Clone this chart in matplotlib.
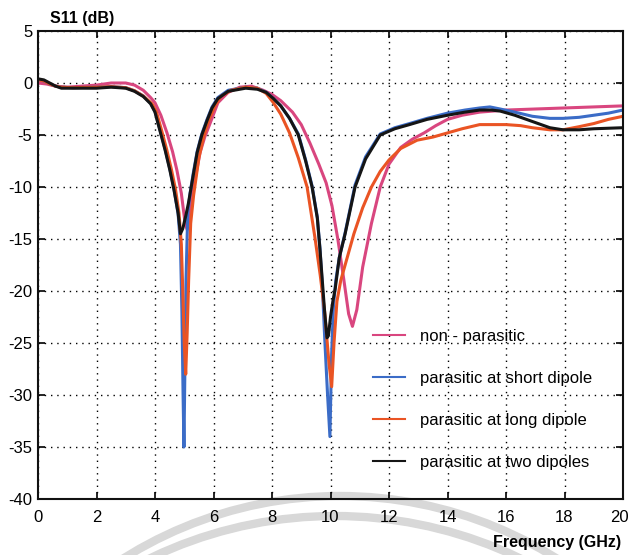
import matplotlib
matplotlib.use("Agg")
import matplotlib.pyplot as plt
import matplotlib.transforms as mtransforms
from matplotlib.patches import Circle

plt.rcParams['font.family'] = ['Liberation Sans', 'DejaVu Sans']
plt.rcParams['axes.unicode_minus'] = False

# Frequency (GHz) / S11 (dB) for each antenna configuration
freq_non = [0.0, 0.3, 0.6, 1.0, 1.5, 2.0, 2.5, 3.0, 3.3, 3.6, 3.85, 4.0, 4.2, 4.41, 4.6, 4.75,
            4.9, 5.03, 5.1, 5.18, 5.26, 5.4, 5.54, 5.7, 5.88, 6.15, 6.5, 6.9, 7.3, 7.7, 8.0,
            8.3, 8.7, 9.0, 9.3, 9.6, 9.85, 10.05, 10.25, 10.45, 10.62, 10.75, 10.9, 11.1, 11.4, 11.7,
            12.0, 12.4, 12.8, 13.2, 13.6, 14.0, 14.5, 15.1, 16.0, 17.0, 18.0, 19.0, 20.0]
s11_non = [0.0, -0.1, -0.3, -0.4, -0.3, -0.2, 0.0, 0.0, -0.2, -0.7, -1.4, -1.9, -3.1, -4.8, -6.6, -8.4,
           -10.6, -13.5, -14.1, -13.0, -11.0, -8.8, -6.7, -5.2, -3.9, -1.9, -0.9, -0.4, -0.3, -0.7, -1.1,
           -1.7, -2.8, -4.0, -5.8, -7.8, -9.6, -11.8, -15.0, -18.8, -22.2, -23.4, -21.8, -17.7, -13.5, -10.0,
           -7.8, -6.2, -5.4, -4.8, -4.1, -3.5, -3.1, -2.8, -2.6, -2.5, -2.4, -2.3, -2.2]

freq_short = [0.0, 0.2, 0.4, 0.6, 0.8, 1.2, 2.0, 2.5, 3.0, 3.3, 3.6, 3.85, 4.0, 4.17, 4.35, 4.51,
              4.65, 4.79, 4.87, 4.92, 4.96, 4.99, 5.02, 5.06, 5.12, 5.2, 5.3, 5.44, 5.6, 5.78, 5.95,
              6.15, 6.5, 7.1, 7.5, 7.8, 8.05, 8.3, 8.6, 8.9, 9.15, 9.37, 9.55, 9.64, 9.72, 9.81, 9.9,
              9.98, 10.04, 10.1, 10.18, 10.3, 10.5, 10.84, 11.2, 11.7, 12.2, 12.7, 13.3, 14.0, 14.6,
              15.1, 15.45, 15.8, 16.3, 16.9, 17.5, 17.95, 18.5, 19.0, 19.5, 20.0]
s11_short = [0.3, 0.2, -0.1, -0.3, -0.4, -0.45, -0.4, -0.35, -0.45, -0.75, -1.25, -1.95, -2.75, -4.5, -6.4, -8.3,
             -10.2, -12.6, -15.5, -22.0, -30.0, -35.0, -28.0, -19.0, -12.5, -10.6, -8.8, -6.6, -4.9, -3.5, -2.3,
             -1.4, -0.7, -0.4, -0.5, -0.9, -1.5, -2.2, -3.4, -4.9, -7.4, -9.9, -12.9, -15.9, -19.5, -25.0, -30.0,
             -34.0, -26.0, -21.5, -19.0, -16.8, -14.4, -9.8, -7.1, -4.9, -4.3, -3.9, -3.4, -2.9, -2.6,
             -2.4, -2.3, -2.5, -2.8, -3.2, -3.4, -3.4, -3.3, -3.1, -2.9, -2.6]

freq_long = [0.0, 0.2, 0.4, 0.6, 0.8, 1.2, 2.0, 2.5, 3.0, 3.3, 3.6, 3.9, 4.05, 4.22, 4.4, 4.56,
             4.7, 4.82, 4.9, 4.95, 5.0, 5.05, 5.1, 5.15, 5.22, 5.32, 5.5, 5.66, 5.85, 6.05, 6.25,
             6.6, 7.1, 7.5, 7.8, 8.05, 8.3, 8.6, 8.9, 9.2, 9.47, 9.65, 9.8, 9.95, 10.04, 10.12,
             10.22, 10.35, 10.5, 10.8, 11.1, 11.4, 11.7, 12.0, 12.4, 12.96, 13.5, 14.0, 14.5, 15.1,
             16.0, 16.5, 16.9, 17.5, 17.95, 18.5, 19.0, 19.5, 20.0]
s11_long = [0.3, 0.2, -0.1, -0.3, -0.4, -0.45, -0.4, -0.35, -0.45, -0.75, -1.25, -2.0, -2.8, -4.5, -6.4, -8.3,
            -10.2, -12.5, -15.5, -20.0, -25.0, -28.0, -24.0, -19.0, -13.5, -10.8, -7.2, -5.2, -3.5, -2.2, -1.3,
            -0.7, -0.4, -0.5, -1.0, -1.9, -3.0, -4.8, -7.2, -10.0, -14.9, -18.5, -22.0, -27.0, -29.2, -25.0,
            -21.0, -19.0, -17.5, -14.5, -12.0, -10.0, -8.5, -7.4, -6.3, -5.5, -5.2, -4.8, -4.4, -4.0,
            -4.0, -4.1, -4.3, -4.5, -4.5, -4.2, -3.9, -3.5, -3.2]

freq_two = [0.0, 0.2, 0.4, 0.6, 0.8, 1.2, 2.0, 2.5, 3.0, 3.3, 3.6, 3.85, 4.0, 4.17, 4.35, 4.51,
            4.65, 4.79, 4.87, 4.95, 5.05, 5.14, 5.3, 5.44, 5.6, 5.78, 5.95, 6.15, 6.5, 7.1, 7.5,
            7.8, 8.05, 8.3, 8.6, 8.9, 9.15, 9.37, 9.55, 9.64, 9.72, 9.8, 9.88, 9.93, 10.0, 10.08,
            10.16, 10.3, 10.5, 10.84, 11.2, 11.7, 12.2, 12.7, 13.3, 14.0, 14.6, 15.1, 15.5, 15.8,
            16.3, 16.9, 17.5, 17.95, 18.5, 19.0, 19.5, 20.0]
s11_two = [0.4, 0.3, 0.0, -0.3, -0.5, -0.5, -0.5, -0.4, -0.5, -0.8, -1.3, -2.0, -2.8, -4.6, -6.5, -8.4,
           -10.3, -12.5, -14.5, -14.0, -12.8, -11.6, -9.0, -6.7, -5.0, -3.6, -2.4, -1.5, -0.8, -0.5, -0.6,
           -0.9, -1.5, -2.2, -3.4, -5.0, -7.5, -10.0, -13.0, -16.0, -19.0, -22.0, -24.5, -24.3, -22.5, -21.0,
           -19.8, -16.8, -14.5, -10.0, -7.3, -5.0, -4.4, -4.0, -3.5, -3.1, -2.8, -2.6, -2.6, -2.7,
           -3.1, -3.7, -4.3, -4.5, -4.5, -4.4, -4.35, -4.3]

series_labels = ["non - parasitic", "parasitic at short dipole",
                 "parasitic at long dipole", "parasitic at two dipoles"]
series_colors = ["#d9467f", "#3b6cc7", "#ea5424", "#151515"]

x_ticks = [0, 2, 4, 6, 8, 10, 12, 14, 16, 18, 20]
y_ticks = [5, 0, -5, -10, -15, -20, -25, -30, -35, -40]

W, H = 631, 555
fig = plt.figure(figsize=(W / 100, H / 100), dpi=100, facecolor="white")

# faint circular watermark behind the plot
bg = fig.add_axes([0, 0, 1, 1], zorder=0)
bg.set_xlim(0, W)
bg.set_ylim(H, 0)
bg.axis("off")
for (cx, cy, r) in [(340, 903, 407), (335, 942, 426)]:
    bg.add_patch(Circle((cx, cy), r, fill=False, lw=6, ec="#d8d8d8"))

ax = fig.add_axes([38 / W, 56 / H, (623 - 38) / W, (499 - 31) / H], zorder=1)
ax.set_facecolor("none")

data = [(freq_non, s11_non), (freq_short, s11_short),
        (freq_long, s11_long), (freq_two, s11_two)]
for (fx, fy), lab, col in zip(data, series_labels, series_colors):
    ax.plot(fx, fy, color=col, lw=2.2, label=lab, solid_joinstyle="round")

ax.set_xlim(0, 20)
ax.set_ylim(-40, 5)
ax.set_xticks(x_ticks)
ax.set_yticks(y_ticks)
ax.grid(True, color="black", linestyle=(0, (1, 3.5)), linewidth=1.0)
ax.tick_params(direction="in", length=5, width=1.2, top=True, right=True,
               labelsize=12, colors="black")
ax.tick_params(axis="y", pad=4)
ax.tick_params(axis="x", pad=8)
for sp in ax.spines.values():
    sp.set_linewidth(1.5)
    sp.set_color("#111111")

# keep the last frequency label inside the canvas
last = ax.get_xticklabels()[-1]
last.set_transform(last.get_transform() +
                   mtransforms.ScaledTranslation(-4 / 100, 0, fig.dpi_scale_trans))

leg = ax.legend(loc="upper left", bbox_to_anchor=(0.561, 0.378), frameon=False,
                fontsize=12, handlelength=1.9, handletextpad=0.9, labelspacing=1.62,
                borderaxespad=0)
for h in leg.get_lines():
    h.set_linewidth(1.5)

fig.text(50 / W, 1 - 19 / H, "S11 (dB)", fontsize=11.5, fontweight="bold",
         ha="left", va="center")
fig.text(621 / W, 1 - 543 / H, "Frequency (GHz)", fontsize=11.5, fontweight="bold",
         ha="right", va="center")

fig.savefig("out.png", dpi=100, facecolor="white")
